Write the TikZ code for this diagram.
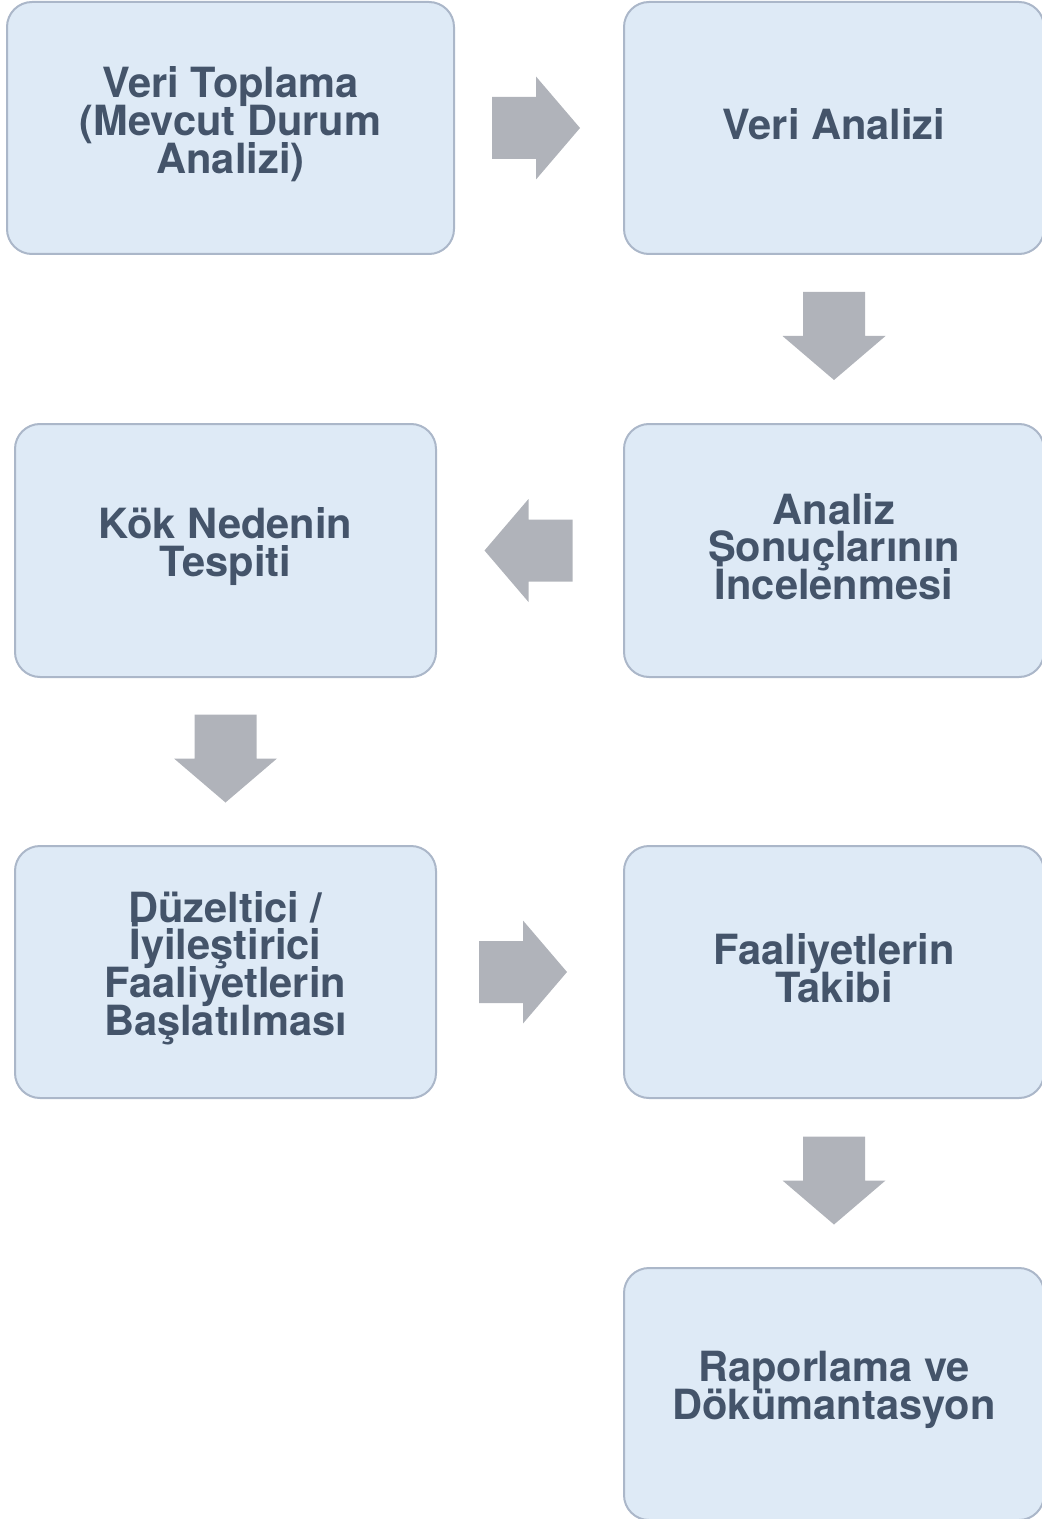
\documentclass[tikz,border=0pt]{standalone}
\usepackage{fontspec}
\setmainfont{TeX Gyre Heros}
\usetikzlibrary{calc}
\definecolor{boxfill}{HTML}{DEEAF6}
\definecolor{boxline}{HTML}{ABB7C9}
\definecolor{boxtext}{HTML}{44546A}
\definecolor{arrowgray}{HTML}{B0B3BA}
\newcommand\tightlines{\lineskiplimit=-100pt\relax\lineskip=0pt\relax}
\tikzset{
  stepbox/.style={draw=boxline, line width=1pt, fill=boxfill, rounded corners=12.5pt, inner sep=0pt},
  steptext/.style={align=center, text=boxtext, inner sep=0pt, yshift=2pt,
    font=\fontsize{20.8pt}{18.9pt}\selectfont\bfseries\tightlines},
  blockarr/.pic={\fill[arrowgray] (-44,-31)--(0,-31)--(0,-51.5)--(44,0)--(0,51.5)--(0,31)--(-44,31)--cycle;}
}
\begin{document}
\begin{tikzpicture}[x=0.5pt,y=-0.5pt]
\useasboundingbox (0,0) rectangle (1041,1519);
\node[stepbox, minimum width=223.5pt, minimum height=126pt] (n1) at (230.5,128) {};
\node[stepbox, minimum width=210pt, minimum height=126pt] (n2) at (834,128) {};
\node[stepbox, minimum width=210pt, minimum height=126.5pt] (n3) at (834,550.5) {};
\node[stepbox, minimum width=210.5pt, minimum height=126.5pt] (n4) at (225.5,550.5) {};
\node[stepbox, minimum width=210.5pt, minimum height=126pt] (n5) at (225.5,972) {};
\node[stepbox, minimum width=210pt, minimum height=126pt] (n6) at (834,972) {};
\node[stepbox, minimum width=210pt, minimum height=126pt] (n7) at (834,1394) {};
\node[steptext] (t1) at (n1.center) {Veri Toplama\\(Mevcut Durum\\Analizi)};
\node[steptext] (t2) at (n2.center) {Veri Analizi};
\node[steptext] (t3) at (n3.center) {Analiz\\Sonuçlarının\\İncelenmesi};
\node[steptext] (t4) at (n4.center) {Kök Nedenin\\Tespiti};
\node[steptext] (t5) at (n5.center) {Düzeltici /\\İyileştirici\\Faaliyetlerin\\Başlatılması};
\node[steptext] (t6) at (n6.center) {Faaliyetlerin\\Takibi};
\node[steptext] (t7) at (n7.center) {Raporlama ve\\Dökümantasyon};
\pic at ($(n1.east)!0.5!(n2.west)+(-3,0)$) {blockarr};
\pic[rotate=-90] at ($(n2.south)!0.5!(n3.north)+(0,-3)$) {blockarr};
\pic[rotate=180] at ($(n3.west)!0.5!(n4.east)+(-1.5,0)$) {blockarr};
\pic[rotate=-90] at ($(n4.south)!0.5!(n5.north)+(0,-3)$) {blockarr};
\pic at ($(n5.east)!0.5!(n6.west)+(-7,0)$) {blockarr};
\pic[rotate=-90] at ($(n6.south)!0.5!(n7.north)+(0,-2.5)$) {blockarr};
\end{tikzpicture}
\end{document}
